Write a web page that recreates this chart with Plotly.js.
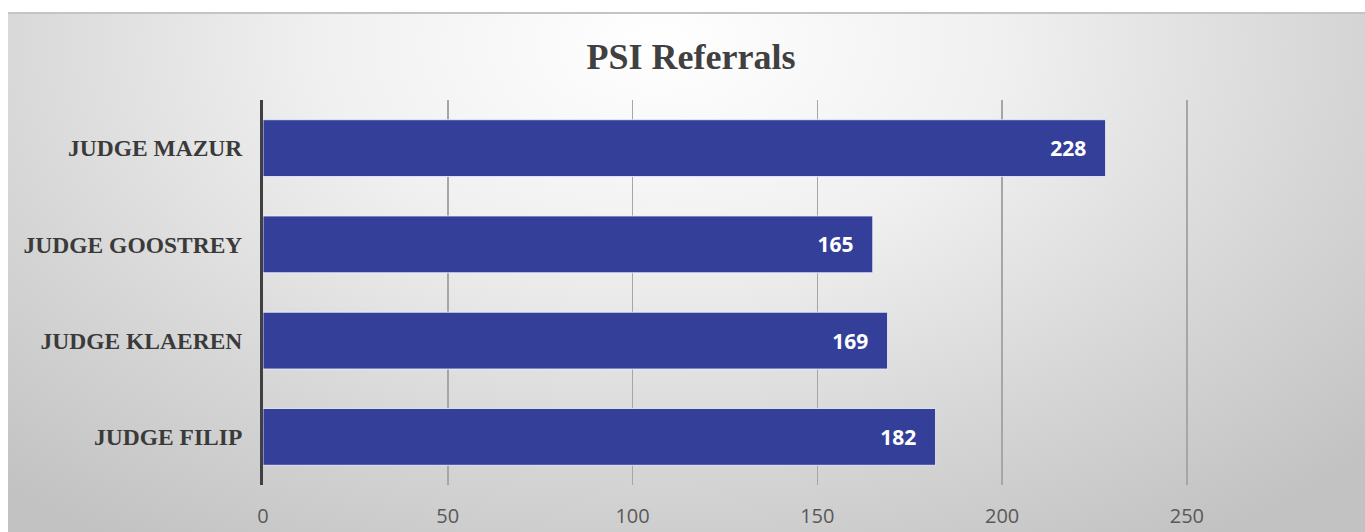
<!DOCTYPE html>
<html>
<head>
<meta charset="utf-8">
<script src="https://cdn.plot.ly/plotly-3.0.1.min.js"></script>
<style>
  html, body { margin: 0; padding: 0; background: #ffffff; width: 1365px; height: 532px; overflow: hidden; }
  #bg { position: absolute; left: 8px; top: 12px; width: 1357px; height: 520px;
        border-top: 2px solid #c4c4c4; box-sizing: border-box;
        background: radial-gradient(ellipse 72% 115% at 48% 6%, #ffffff 0%, #f0f0f0 35%, #d6d6d6 70%, #c2c2c2 100%); }
  #chart { position: absolute; left: 0; top: 0; width: 1365px; height: 532px; }
</style>
</head>
<body>
<div id="bg"></div>
<div id="chart"></div>
<script>
const judges = ["JUDGE FILIP", "JUDGE KLAEREN", "JUDGE GOOSTREY", "JUDGE MAZUR"];
const referrals = [182, 169, 165, 228];
const xTicks = [0, 50, 100, 150, 200, 250];

const trace = {
  type: "bar",
  orientation: "h",
  y: judges,
  x: referrals,
  width: 0.59,
  marker: { color: "#333f98", line: { color: "rgba(235,238,255,0.85)", width: 1 } },
  text: referrals.map(String),
  texttemplate: "%{text}\u00a0\u00a0\u00a0",
  textposition: "inside",
  insidetextanchor: "end",
  textangle: 0,
  textfont: { family: "Open Sans, Liberation Sans, sans-serif", size: 21, color: "#ffffff", weight: "bold" },
  hoverinfo: "none",
  cliponaxis: false
};

const layout = {
  width: 1365,
  height: 532,
  margin: { l: 263, r: 0, t: 100, b: 47 },
  paper_bgcolor: "rgba(0,0,0,0)",
  plot_bgcolor: "rgba(0,0,0,0)",
  showlegend: false,
  title: {
    text: "<b>PSI Referrals</b>",
    font: { family: "Liberation Serif, Times New Roman, serif", size: 36, color: "#404040" },
    x: 691 / 1365, xref: "container", xanchor: "center",
    y: 1 - 56 / 532, yref: "container", yanchor: "middle"
  },
  xaxis: {
    range: [0, 298.2],
    tickvals: xTicks,
    ticktext: xTicks.map(String),
    showgrid: true,
    gridcolor: "#a6a6a6",
    gridwidth: 1.5,
    zeroline: false,
    showline: false,
    ticks: "outside",
    ticklen: 13,
    tickcolor: "rgba(0,0,0,0)",
    tickfont: { family: "Open Sans, Liberation Sans, sans-serif", size: 20, color: "#595959" },
    fixedrange: true
  },
  yaxis: {
    showgrid: false,
    zeroline: false,
    showline: true,
    linecolor: "#404040",
    linewidth: 3,
    ticks: "outside",
    ticklen: 13,
    tickcolor: "rgba(0,0,0,0)",
    tickfont: { family: "Liberation Serif, Times New Roman, serif", size: 23.5, color: "#3a3a3a", weight: "bold" },
    fixedrange: true
  },
  bargap: 0.41
};

Plotly.newPlot("chart", [trace], layout, { displayModeBar: false, staticPlot: true });
</script>
</body>
</html>
